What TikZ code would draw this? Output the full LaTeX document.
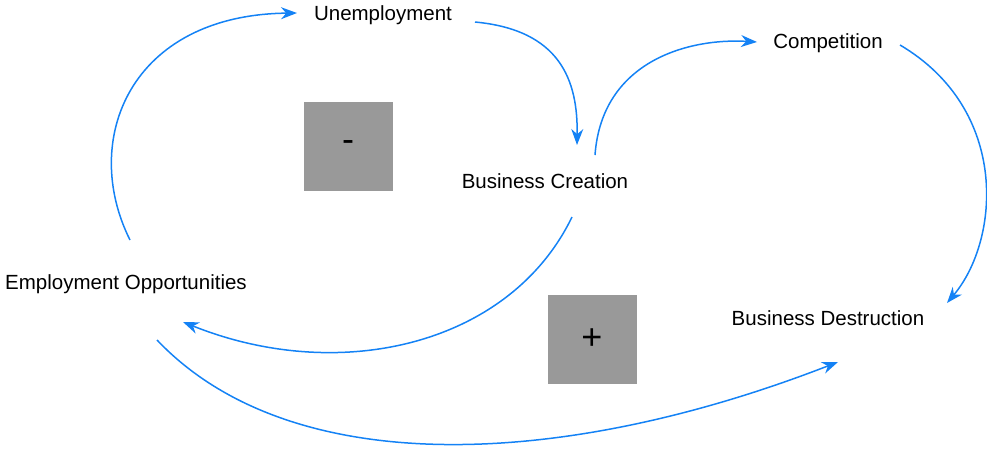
\documentclass[tikz,border=0pt]{standalone}
\usepackage{fontspec}
\setmainfont{Liberation Sans}
\usetikzlibrary{arrows.meta}
\definecolor{linkblue}{RGB}{20,130,245}
\definecolor{boxgray}{RGB}{153,153,153}
\begin{document}
\begin{tikzpicture}[x=1pt,y=-1pt]
\tikzset{var/.style={font=\fontsize{20.5}{24}\selectfont, inner sep=2pt},
  sign/.style={fill=boxgray, minimum size=89pt, font=\fontsize{36}{40}\selectfont},
  link/.style={linkblue, line width=1.5pt, -{Stealth[length=16pt,width=12pt]}}}
\useasboundingbox (0,0) rectangle (987,456);
% variables
\node[var] (unemp) at (383,15) {Unemployment};
\node[var] (comp) at (828,43) {Competition};
\node[var] (create) at (545,181) {Business Creation};
\node[var] (emp) at (126,284) {Employment Opportunities};
\node[var] (destr) at (828,318) {Business Destruction};
% loop signs
\node[sign] (minus) at (348,146) {-};
\node[sign] (plus) at (592,339) {+};
% links
\draw[link] (130,240) .. controls (80,140) and (130,15) .. (297,13);
\draw[link] (475,22) .. controls (560,30) and (578,80) .. (577,145);
\draw[link] (595,155) .. controls (602,60) and (690,38) .. (757,42);
\draw[link] (900,45) .. controls (1010,110) and (1000,240) .. (947,303);
\draw[link] (572,217) .. controls (510,345) and (340,385) .. (183,322);
\draw[link] (157,340) .. controls (290,480) and (560,470) .. (838,362);
\end{tikzpicture}
\end{document}
